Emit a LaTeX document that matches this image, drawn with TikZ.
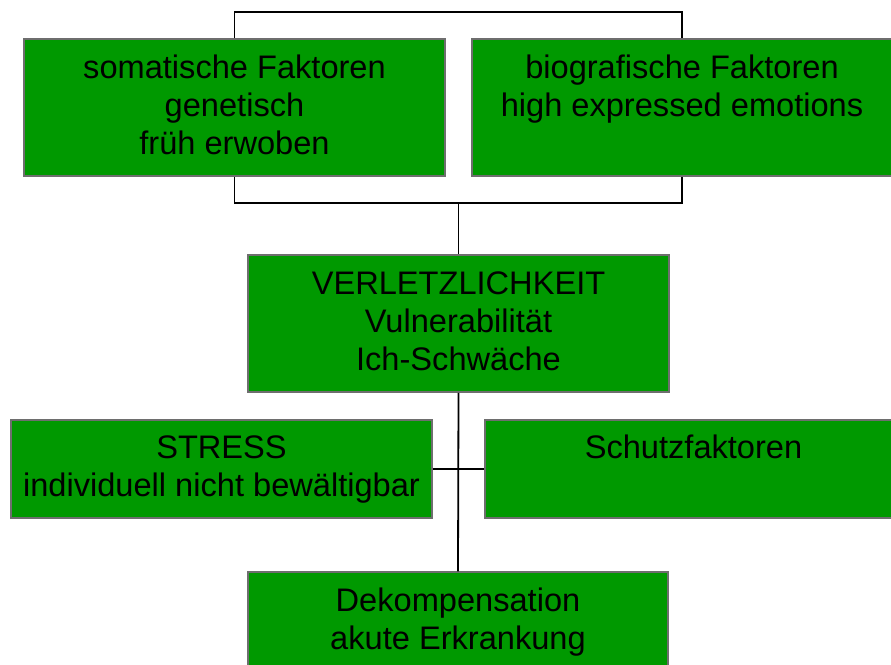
\documentclass[tikz,border=0pt]{standalone}
\usepackage{fontspec}
\setmainfont{Liberation Sans}
\definecolor{boxgreen}{HTML}{009900}
\definecolor{boxborder}{HTML}{6E6E6E}
\begin{document}
\begin{tikzpicture}[x=1pt,y=-1pt,
  greenbox/.style={draw=boxborder,line width=1.5pt,fill=boxgreen,rectangle,inner sep=0pt},
  boxtext/.style={anchor=north,inner sep=0pt,align=center,font=\fontsize{32.6}{38}\selectfont,yshift=-13.4pt},
  conn/.style={draw=black,line width=1.8pt}]
\useasboundingbox (0,0) rectangle (891,664);
\clip (0,0) rectangle (891,664);
% boxes
\node[greenbox,minimum width=421pt,minimum height=137pt] (tl) at (234.5,107.5) {};
\node[greenbox,minimum width=420pt,minimum height=137pt] (tr) at (682,107.5) {};
\node[greenbox,minimum width=421pt,minimum height=137pt] (verl) at (458.5,323.5) {};
\node[greenbox,minimum width=421pt,minimum height=98pt] (stress) at (221.5,469) {};
\node[greenbox,minimum width=417pt,minimum height=98pt] (schutz) at (693.5,469) {};
\node[greenbox,minimum width=420pt,minimum height=108pt] (dekomp) at (458,626) {};
% texts
\node[boxtext] (tltext) at (tl.north) {\strut somatische Faktoren\\genetisch\\früh erwoben};
\node[boxtext] (trtext) at (tr.north) {\strut biografische Faktoren\\high expressed emotions};
\node[boxtext] (verltext) at (verl.north) {\strut VERLETZLICHKEIT\\Vulnerabilität\\Ich-Schwäche};
\node[boxtext,yshift=1pt] (stresstext) at (stress.north) {\strut STRESS\\individuell nicht bewältigbar};
\node[boxtext,yshift=1pt] (schutztext) at (schutz.north) {\strut Schutzfaktoren};
\node[boxtext] (dekomptext) at (dekomp.north) {\strut Dekompensation\\akute Erkrankung};
% connectors
\coordinate (topbar) at (458,12);
\coordinate (midbar) at (458.5,203);
\draw[conn,line width=1.5pt] (tl.north) |- (topbar) -| (tr.north);
\draw[conn] (tl.south) |- (midbar) -| (tr.south);
\draw[conn] (midbar) -- (verl.north);
\draw[conn] (verl.south) -- (dekomp.north);
\draw[conn] (stress.east) -- (schutz.west);
\end{tikzpicture}
\end{document}
